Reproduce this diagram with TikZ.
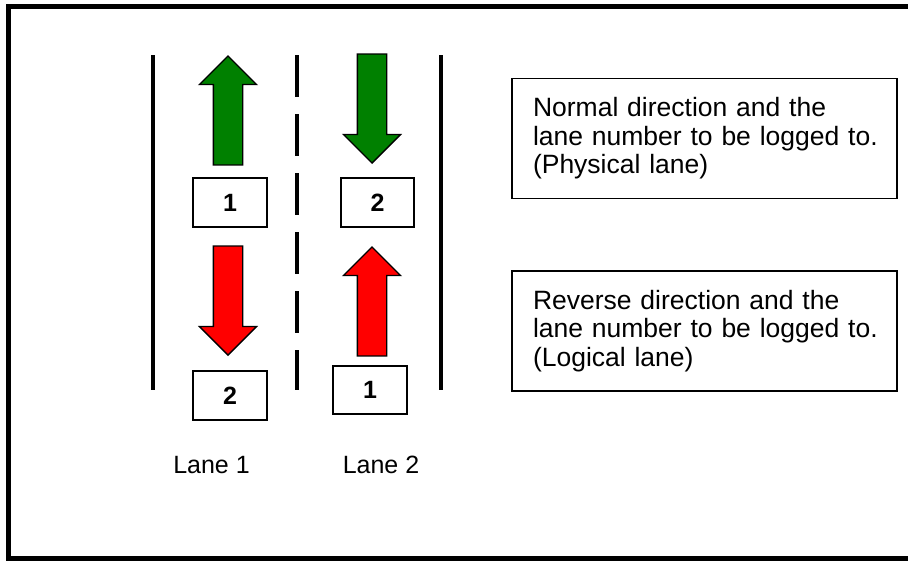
\documentclass[tikz,border=0pt]{standalone}
\usepackage{fontspec}
\setmainfont{Liberation Sans}
\usetikzlibrary{shapes.arrows}
\definecolor{normalgreen}{RGB}{0,128,0}
\definecolor{reversered}{RGB}{255,0,0}
\tikzstyle{every node}=[font=\fontsize{25}{28}\selectfont]
\tikzstyle{numbox}=[draw=black,line width=1.4pt,minimum width=74pt,minimum height=49pt,inner sep=0pt,font=\fontsize{25}{28}\selectfont\bfseries]
\tikzstyle{blockarrow}=[shape=single arrow,draw=black,line width=1.3pt,single arrow head indent=0pt,single arrow head extend=14pt,inner xsep=0pt,inner ysep=14pt,minimum width=56pt,minimum height=109pt,anchor=tip]
\tikzstyle{descbox}=[draw=black,line width=1.6pt,minimum height=120pt,text width=343pt,inner xsep=21pt,align=left,font=\fontsize{26.5}{28.5}\selectfont]
\tikzstyle{laneline}=[line width=4pt]
\begin{document}
\begin{tikzpicture}[x=1pt,y=-1pt]
  \useasboundingbox (0,0) rectangle (908,560);
  \draw[line width=5pt] (8.5,6.5) rectangle (912,558.5);
  % lane markings
  \draw[laneline] (153,55) -- (153,390);
  \draw[laneline,dash pattern=on 42pt off 17pt] (297,55) -- (297,390);
  \draw[laneline] (441,55) -- (441,390);
  % normal direction
  \node[blockarrow,fill=normalgreen,rotate=90] (up1) at (228,55) {};
  \node[blockarrow,fill=normalgreen,rotate=-90] (down2) at (372,164) {};
  \node[numbox] (phys1) at (230,202.5) {1};
  \node[numbox,minimum width=73pt] (phys2) at (377.5,202.5) {2};
  % reverse direction
  \node[blockarrow,fill=reversered,rotate=-90] (down1) at (228,356) {};
  \node[blockarrow,fill=reversered,rotate=90] (up2) at (372,246) {};
  \node[numbox] (log2) at (230,395.5) {2};
  \node[numbox,minimum height=48pt] (log1) at (370,390) {1};
  % lane names
  \node[anchor=base] (lane1) at (211.5,473) {Lane 1};
  \node[anchor=base] (lane2) at (381,473) {Lane 2};
  % legend
  \node[descbox] (normal) at (704.5,138.5) {\mbox{Normal direction and the}\\\mbox{lane number to be logged to.}\\\mbox{(Physical lane)}};
  \node[descbox] (reverse) at (704.5,331) {\mbox{Reverse direction and the}\\\mbox{lane number to be logged to.}\\\mbox{(Logical lane)}};
\end{tikzpicture}
\end{document}
